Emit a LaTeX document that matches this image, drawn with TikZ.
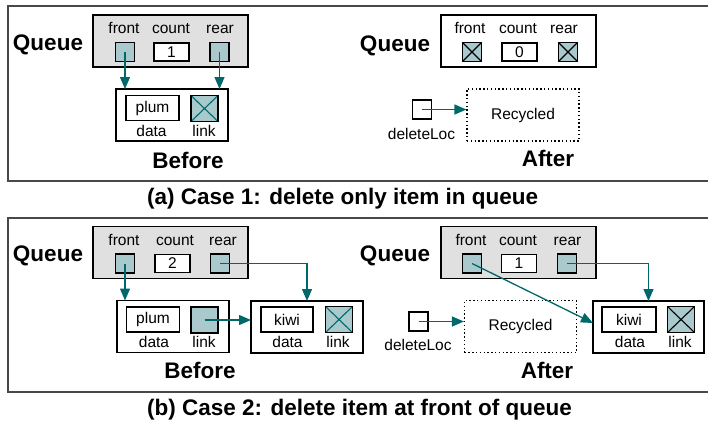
\documentclass[tikz,border=0pt]{standalone}
\usepackage{fontspec}
\setmainfont{Liberation Sans}
\usetikzlibrary{arrows.meta}
\definecolor{tealfill}{HTML}{A9C9CC}
\definecolor{tealline}{HTML}{00686B}
\definecolor{qgray}{HTML}{E0E0E0}
\definecolor{framegray}{HTML}{484848}
\begin{document}
\begin{tikzpicture}[x=1pt,y=-1pt,
  frame/.style={draw=framegray, line width=1.8pt},
  bx/.style={draw=black, line width=1.2pt, inner sep=0pt, outer sep=0pt},
  qbox/.style={bx, fill=qgray, minimum width=155, minimum height=52},
  qboxw/.style={bx, fill=white, minimum width=155, minimum height=52},
  ptr/.style={bx, fill=tealfill, minimum width=19, minimum height=19},
  crossed/.style={path picture={\draw[#1, line width=1.1pt]
     (path picture bounding box.north west) -- (path picture bounding box.south east)
     (path picture bounding box.north east) -- (path picture bounding box.south west);}},
  nullx/.style={ptr, crossed=#1},
  cnt/.style={bx, fill=white, minimum width=35, minimum height=18, font=\fontsize{15.5}{18}\selectfont},
  lnode/.style={bx, fill=white, minimum width=112, minimum height=52},
  dbox/.style={bx, fill=white, minimum width=53, minimum height=25, font=\fontsize{15.5}{18}\selectfont},
  lbox/.style={bx, fill=tealfill, minimum width=27, minimum height=26},
  lboxx/.style={lbox, crossed=#1},
  dlbox/.style={bx, fill=white, minimum width=19, minimum height=19},
  recyc/.style={draw=black, line width=1.2pt, dash pattern=on 1.4pt off 2.4pt, inner sep=0pt,
     minimum width=112, minimum height=52, font=\fontsize{15.5}{18}\selectfont},
  lbl/.style={inner sep=0pt, anchor=base, font=\fontsize{15.5}{18}\selectfont},
  big/.style={inner sep=0pt, anchor=base, font=\fontsize{22.5}{26}\selectfont\bfseries},
  conn/.style={draw=tealline, line width=1.3pt, -{Triangle[length=12pt,width=10pt]}}
]
\useasboundingbox (0,0) rectangle (708,421);

% ---------------- frames ----------------
\draw[frame] (708,6) -| (8,181) -- (708,181);
\draw[frame] (708,218) -| (8,392) -- (708,392);

% ================= (a) Before =================
\node[big] (qla) at (48,50) {Queue};
\node[qbox] (qa) at (170.5,41) {};
\node[lbl] (fla) at (124,33.5) {front};
\node[lbl] (cla) at (171,33.5) {count};
\node[lbl] (rla) at (220,33.5) {rear};
\node[ptr] (fpa) at (125,52) {};
\node[cnt] (cpa) at (171.5,52) {1};
\node[ptr] (rpa) at (219.5,52) {};
\node[lnode] (na) at (172,115) {};
\node[dbox] (pa) at (152.5,108) {plum};
\node[lboxx=tealline] (la) at (204.5,108.5) {};
\node[lbl] (dla) at (151.5,136) {data};
\node[lbl] (lla) at (204,136) {link};
\node[big] (bfa) at (188,168) {Before};
\draw[conn] (fpa.center) -- (fpa.center |- na.north);
\draw[conn] (rpa.center) -- (rpa.center |- na.north);

% ================= (a) After =================
\node[big] (qla2) at (395,51) {Queue};
\node[qboxw] (qa2) at (518.5,41) {};
\node[lbl] (fla2) at (470,33.5) {front};
\node[lbl] (cla2) at (518,33.5) {count};
\node[lbl] (rla2) at (564,33.5) {rear};
\node[nullx=black] (fpa2) at (472,52) {};
\node[cnt] (cpa2) at (519.5,52) {0};
\node[nullx=black] (rpa2) at (568,52) {};
\node[dlbox] (dla2) at (422,109.5) {};
\node[lbl] (dlla2) at (421.5,139) {deleteLoc};
\node[recyc] (rca) at (523,115) {Recycled};
\node[big] (afa) at (548,166) {After};
\draw[conn] (dla2.center) -- (dla2.center -| rca.west);

\node[big, anchor=base west] (capa) at (147,204) {(a) Case 1: delete only item in queue};

% ================= (b) Before =================
\node[big] (qlb) at (48,261.5) {Queue};
\node[qbox] (qb) at (170.5,252.5) {};
\node[lbl] (flb) at (124,245.5) {front};
\node[lbl] (clb) at (175,245.5) {count};
\node[lbl] (rlb) at (223,245.5) {rear};
\node[ptr] (fpb) at (125,263.5) {};
\node[cnt] (cpb) at (172.5,263.5) {2};
\node[ptr] (rpb) at (220,263.5) {};
\node[lnode] (nb1) at (173,326.5) {};
\node[dbox] (pb) at (153,319.5) {plum};
\node[lbox] (lb1) at (204.5,320) {};
\node[lbl] (dlb1) at (154,347) {data};
\node[lbl] (llb1) at (204,347) {link};
\node[lnode] (nb2) at (307,327) {};
\node[dbox, minimum width=52] (kb) at (287,319.5) {kiwi};
\node[lboxx=tealline] (lb2) at (339,319.5) {};
\node[lbl] (dlb2) at (287.5,347) {data};
\node[lbl] (llb2) at (338,347) {link};
\node[big] (bfb) at (200,378.5) {Before};
\draw[conn] (fpb.center) -- (fpb.center |- nb1.north);
\draw[conn] (rpb.center) -| (nb2.north);
\draw[conn] (lb1.center) -- (lb1.center -| nb2.west);

% ================= (b) After =================
\node[big] (qlb2) at (395,261.5) {Queue};
\node[qbox] (qb2) at (518.5,252.5) {};
\node[lbl] (flb2) at (471,245.5) {front};
\node[lbl] (clb2) at (518,245.5) {count};
\node[lbl] (rlb2) at (567.5,245.5) {rear};
\node[ptr] (fpb2) at (472,263.5) {};
\node[cnt] (cpb2) at (519,263.5) {1};
\node[ptr] (rpb2) at (567,263.5) {};
\node[lnode, minimum width=111] (nb3) at (648.5,327) {};
\node[dbox, minimum width=54] (kb3) at (629,319.5) {kiwi};
\node[lboxx=black] (lb3) at (681,319.5) {};
\node[lbl] (dlb3) at (630,347) {data};
\node[lbl] (llb3) at (680,347) {link};
\node[dlbox] (dlb) at (418.5,321.5) {};
\node[lbl] (dllb) at (418,350) {deleteLoc};
\node[recyc] (rcb) at (520.5,326.5) {Recycled};
\node[big] (afb) at (547,378) {After};
\draw[conn] (dlb.center) -- (dlb.center -| rcb.west);
\draw[conn] (fpb2.center) -- ([yshift=4pt]nb3.west);
\draw[conn] (rpb2.center) -| (nb3.north);

\node[big, anchor=base west] (capb) at (147,415) {(b) Case 2: delete item at front of queue};
\end{tikzpicture}
\end{document}
